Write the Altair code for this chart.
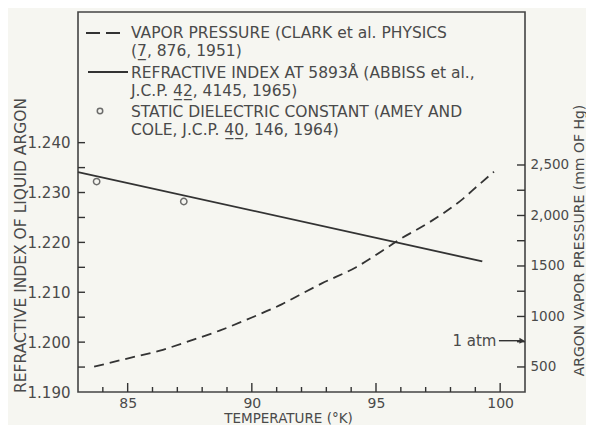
import altair as alt
import pandas as pd

# ---------------- data ----------------
# vapor pressure (right axis, mm Hg)
vap_T = [83.65, 85.1, 86.3, 87.5, 88.7, 90.0, 91.2, 91.9, 92.8, 94.2, 95.5, 95.9, 97.1, 98.5, 99.1, 99.75]
vap_P = [503, 590, 662, 758, 860, 990, 1120, 1210, 1325, 1488, 1690, 1755, 1925, 2165, 2295, 2433]

# refractive index at 5893 A (left axis)
ri_T = [83.0, 99.28]
ri_N = [1.2341, 1.2162]

# static dielectric constant points (left axis)
diel_T = [83.75, 87.26]
diel_N = [1.2322, 1.2282]

# ticks / labels
x_major = [85, 90, 95, 100]
x_minor = [84, 86, 87, 88, 89, 91, 92, 93, 94, 96, 97, 98, 99]
n_labels = [1.190, 1.200, 1.210, 1.220, 1.230, 1.240]
n_ticks = [1.195, 1.200, 1.205, 1.210, 1.215, 1.220, 1.225, 1.230, 1.235, 1.240]
p_labels = [500, 1000, 1500, 2000, 2500]
p_ticks = [500, 750, 1000, 1250, 1500, 1750, 2000, 2250, 2500]

# 1 atm marker
atm_P = [760]
atm_text_T = [99.85]
atm_line_T = [99.95, 100.85]
atm_head_T = [100.88]

legend_lines = [
    ["VAPOR PRESSURE (CLARK et al. PHYSICS", "(7\u0332, 876, 1951)"],
    ["REFRACTIVE INDEX AT 5893\u00c5 (ABBISS et al.,", "J.C.P. 4\u03322\u0332, 4145, 1965)"],
    ["STATIC DIELECTRIC CONSTANT (AMEY AND", "COLE, J.C.P. 4\u03320\u0332, 146, 1964)"],
]

# ---------------- styling ----------------
FONT = "DejaVu Sans"
TXT = "#4a4a4a"
INK = "#333333"
FS = 15
FS_LEG = 15.5
FS_T = 15.5
W, H = 447, 380

xs = alt.Scale(domain=[83, 101], nice=False, zero=False)
ls = alt.Scale(domain=[1.190, 1.2662], nice=False, zero=False)
rs = alt.Scale(domain=[252, 4015], nice=False, zero=False)

x_axis = alt.Axis(values=x_major, format="d", tickSize=0, domain=False, grid=False,
                  labelPadding=4, labelFontSize=14, labelColor=TXT, labelFont=FONT,
                  title="TEMPERATURE (\u00b0K)", titleX=210, titleY=30, titleBaseline="alphabetic",
                  titleFontWeight="normal", titleFontSize=13.5, titleColor=TXT, titleFont=FONT)
l_axis = alt.Axis(values=n_labels, format=".3f", tickSize=0, domain=False, grid=False, orient="left",
                  labelPadding=8, labelFontSize=FS, labelColor=TXT, labelFont=FONT,
                  title="REFRACTIVE INDEX OF LIQUID ARGON", titleX=-58, titleY=233, titleAngle=270,
                  titleBaseline="middle", titleAlign="center",
                  titleFontWeight="normal", titleFontSize=FS_T, titleColor=TXT, titleFont=FONT)
r_axis = alt.Axis(values=p_labels, tickSize=0, domain=False, grid=False, orient="right",
                  labelExpr="datum.value >= 2000 ? format(datum.value, ',') : format(datum.value, 'd')",
                  labelPadding=5, labelFontSize=13.5, labelColor=TXT, labelFont=FONT,
                  title="ARGON VAPOR PRESSURE (mm OF Hg)", titleX=54, titleY=228, titleAngle=270,
                  titleBaseline="middle", titleAlign="center",
                  titleFontWeight="normal", titleFontSize=14, titleColor=TXT, titleFont=FONT)

X = alt.X("T:Q", scale=xs, axis=x_axis)
YL = alt.Y("n:Q", scale=ls, axis=l_axis)
YR = alt.Y("p:Q", scale=rs, axis=r_axis)

one = pd.DataFrame({"k": [0]})

# ---------------- left group ----------------
ri_line = alt.Chart(pd.DataFrame({"T": ri_T, "n": ri_N})).mark_line(
    color=INK, strokeWidth=1.8).encode(x=X, y=YL)
diel_pts = alt.Chart(pd.DataFrame({"T": diel_T, "n": diel_N})).mark_point(
    shape="circle", filled=False, color=INK, size=40, strokeWidth=1.5).encode(x=X, y=YL)
lticks = alt.Chart(pd.DataFrame({"n": n_ticks})).mark_rule(color=INK, strokeWidth=1.4).encode(
    y=YL, x=alt.value(0), x2=alt.value(7))
xmaj = alt.Chart(pd.DataFrame({"T": x_major})).mark_rule(color=INK, strokeWidth=1.4).encode(
    x=X, y=alt.value(H), y2=alt.value(H - 9))
xmin = alt.Chart(pd.DataFrame({"T": x_minor})).mark_rule(color=INK, strokeWidth=1.4).encode(
    x=X, y=alt.value(H), y2=alt.value(H - 5))

# legend
LX = 53
leg_text = [
    alt.Chart(one).mark_text(text=lines, align="left", baseline="middle", font=FONT,
                             fontSize=FS_LEG, color=TXT, lineHeight=18).encode(
        x=alt.value(LX), y=alt.value(yy))
    for lines, yy in zip(legend_lines, [21, 61, 100])
]
leg_dash = alt.Chart(one).mark_rule(color=INK, strokeWidth=1.8, strokeDash=[14, 6]).encode(
    x=alt.value(8), x2=alt.value(48), y=alt.value(21))
leg_solid = alt.Chart(one).mark_rule(color=INK, strokeWidth=1.8).encode(
    x=alt.value(10), x2=alt.value(50), y=alt.value(60))
leg_pt = alt.Chart(one).mark_point(shape="circle", filled=False, color=INK, size=30,
                                   strokeWidth=1.5).encode(x=alt.value(22), y=alt.value(99))

left = alt.layer(ri_line, diel_pts, lticks, xmaj, xmin, leg_dash, leg_solid, leg_pt, *leg_text)

# ---------------- right group ----------------
vap = alt.Chart(pd.DataFrame({"T": vap_T, "p": vap_P})).mark_line(
    color=INK, strokeWidth=1.8, strokeDash=[10, 6], interpolate="monotone").encode(x=X, y=YR)
rticks = alt.Chart(pd.DataFrame({"p": p_ticks})).mark_rule(color=INK, strokeWidth=1.4).encode(
    y=YR, x=alt.value(W - 8), x2=alt.value(W))
atm_line = alt.Chart(pd.DataFrame({"T": atm_line_T, "p": atm_P * 2})).mark_line(
    color=INK, strokeWidth=1.4).encode(x=X, y=YR)
atm_head = alt.Chart(pd.DataFrame({"T": atm_head_T, "p": atm_P})).mark_point(
    shape="triangle-right", filled=True, color=INK, size=36, opacity=1).encode(x=X, y=YR)
atm_text = alt.Chart(pd.DataFrame({"T": atm_text_T, "p": atm_P})).mark_text(
    text="1  atm", align="right", baseline="middle", font=FONT, fontSize=FS, color=TXT).encode(x=X, y=YR)

right = alt.layer(vap, rticks, atm_line, atm_head, atm_text)

chart = alt.layer(left, right).resolve_scale(y="independent").properties(
    width=W, height=H,
    autosize=alt.AutoSizeParams(type="none"),
    padding={"left": 70, "top": 4, "right": 61, "bottom": 33},
    background="#f6f6f1",
).configure_view(stroke="#444444", strokeWidth=1.6)

chart.save("out.html", embed_options={"renderer": "svg", "actions": False})
